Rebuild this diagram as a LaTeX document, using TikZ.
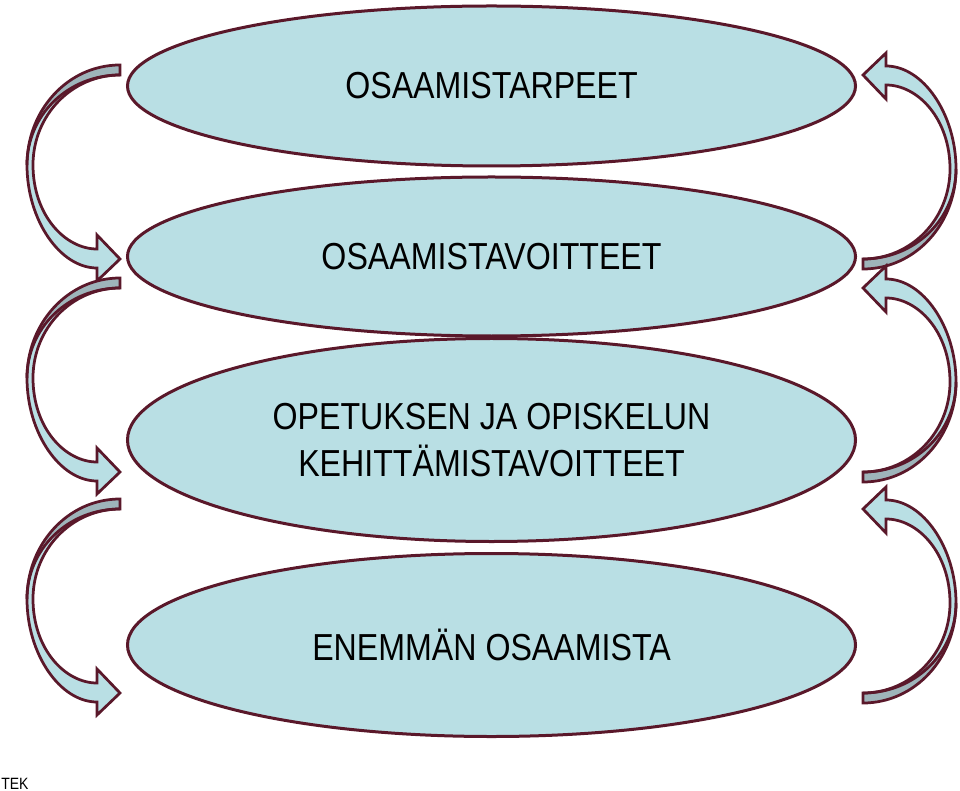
\documentclass[tikz,border=0pt]{standalone}
\usepackage{fontspec}
\setmainfont{Liberation Sans}[FakeStretch=0.855]
\usetikzlibrary{shapes.geometric}
\definecolor{viini}{RGB}{90,24,42}
\definecolor{vaalea}{RGB}{185,223,228}
\definecolor{harmaa}{RGB}{158,180,186}

\begin{document}
\begin{tikzpicture}[
    x=0.2mm, y=-0.2mm,     % one unit is one pixel of the page, y going down
    tavoite/.style={
        ellipse,
        draw=viini,
        fill=vaalea,
        line width=0.6mm,
        minimum width=145.6mm,
        inner sep=0pt,
        outer sep=0pt,
        align=center,
        font=\fontsize{21.4}{26.7}\selectfont
    },
    kaari/.pic={
        % back face near the tail
        \fill[harmaa] (0,-5) .. controls (-52,-5) and (-93,40) .. (-93,95)
            .. controls (-93,45) and (-52,5) .. (0,5) -- cycle;
        % front face and head
        \fill[vaalea] (0,5) .. controls (-52,5) and (-93,45) .. (-93,95)
            .. controls (-93,150) and (-60,198) .. (-23,198)
            -- (-23,211) -- (0,189) -- (-23,165) -- (-23,179)
            .. controls (-55,179) and (-87,145) .. (-87,95)
            .. controls (-87,45) and (-48,5) .. (0,5) -- cycle;
        \draw[viini, line width=0.55mm, line join=miter]
            (0,-5) .. controls (-52,-5) and (-93,40) .. (-93,95)
            .. controls (-93,150) and (-60,198) .. (-23,198)
            -- (-23,211) -- (0,189) -- (-23,165) -- (-23,179)
            .. controls (-55,179) and (-87,145) .. (-87,95)
            .. controls (-87,45) and (-48,5) .. (0,5) -- cycle;
        \draw[viini, line width=0.55mm] (0,5) .. controls (-52,5) and (-93,45) .. (-93,95);
    }
]
\useasboundingbox (0,0) rectangle (960,791);

    \node[tavoite, minimum height=32mm] (tarpeet) at (491.5,86) {OSAAMISTARPEET};
    \node[tavoite, minimum height=31.8mm] (tavoitteet) at (491.5,256.5) {OSAAMISTAVOITTEET};
    \node[tavoite, minimum height=40.6mm] (kehitys) at (491.5,440) {OPETUKSEN JA OPISKELUN\\KEHITTÄMISTAVOITTEET};
    \node[tavoite, minimum height=36.6mm] (enemman) at (491.5,645) {ENEMMÄN OSAAMISTA};

    \coordinate (L1) at (120,70);
    \coordinate (L2) at (120,283);
    \coordinate (L3) at (120,504);
    \coordinate (R1) at (863,264);
    \coordinate (R2) at (863,477);
    \coordinate (R3) at (863,698);

    \pic at (L1) {kaari};
    \pic at (L2) {kaari};
    \pic at (L3) {kaari};
    \pic[rotate=180] at (R1) {kaari};
    \pic[rotate=180] at (R2) {kaari};
    \pic[rotate=180] at (R3) {kaari};

    \node[anchor=south west, inner sep=0pt, font=\fontsize{9.3}{11}\selectfont] (tek) at (1,790) {TEK};
\end{tikzpicture}
\end{document}
